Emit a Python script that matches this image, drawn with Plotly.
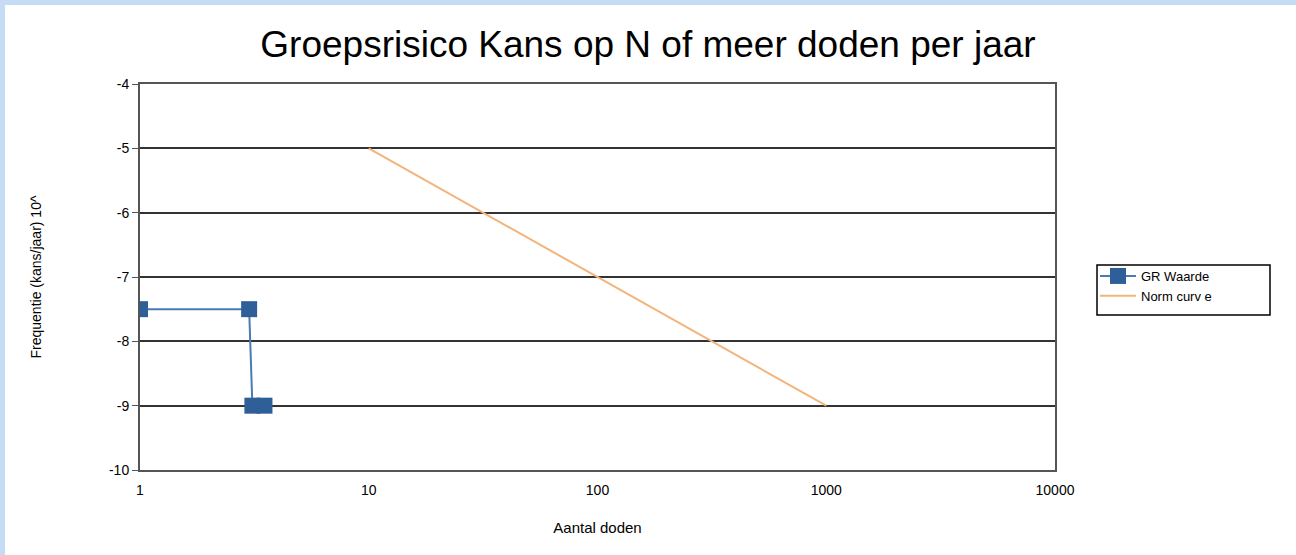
import plotly.graph_objects as go

gr_x = [1, 3, 3.1, 3.5]
gr_y = [-7.5, -7.5, -9, -9]
norm_x = [10, 100, 1000]
norm_y = [-5, -7, -9]
x_ticks = [1, 10, 100, 1000, 10000]
y_ticks = [-4, -5, -6, -7, -8, -9, -10]

fig = go.Figure()
fig.add_trace(go.Scatter(x=gr_x, y=gr_y, mode="lines+markers", name="GR Waarde",
                         line=dict(color="#4a7ab5", width=2),
                         marker=dict(symbol="square", size=16, color="#2f5f99")))
fig.add_trace(go.Scatter(x=norm_x, y=norm_y, mode="lines", name="Norm curv e",
                         line=dict(color="#f2b47a", width=2)))

L, R, T, B = 140, 241, 84, 85
W, H = 1296, 555
pw, ph = W - L - R, H - T - B

fig.update_layout(
    width=W, height=H,
    margin=dict(l=L, r=R, t=T, b=B, autoexpand=False),
    paper_bgcolor="white", plot_bgcolor="white",
    font=dict(family="Liberation Sans, Arial", color="black", size=14),
    title=dict(text="Groepsrisico Kans op N of meer doden per jaar",
               x=648 / W, xanchor="center", y=1 - 44 / H, yanchor="middle",
               xref="container", yref="container",
               font=dict(size=37, family="Liberation Sans, Arial"), automargin=False),
    showlegend=True,
    legend=dict(x=(1095 - L) / pw, xanchor="left", y=1 - (261 - T) / ph, yanchor="top",
                borderwidth=0, bgcolor="rgba(0,0,0,0)",
                font=dict(size=13), tracegroupgap=0, itemwidth=36),
    xaxis=dict(type="log", range=[0, 4], tickvals=x_ticks, ticktext=[str(v) for v in x_ticks],
               showgrid=False, showline=True, linecolor="#555", linewidth=2, mirror=True,
               ticks="", zeroline=False, automargin=False, ticklabelstandoff=6,
               title=dict(text="Aantal doden", font=dict(size=15), standoff=26),
               tickfont=dict(size=14)),
    yaxis=dict(range=[-10, -4], tickvals=y_ticks, ticktext=[str(v) for v in y_ticks],
               showgrid=True, gridcolor="#333",
               gridwidth=2, showline=True, linecolor="#555", linewidth=2, mirror=True,
               ticks="outside", ticklen=6, tickcolor="#555", zeroline=False, automargin=False,
               title=dict(text="Frequentie (kans/jaar) 10^", font=dict(size=14), standoff=64),
               tickfont=dict(size=14)),
)

# legend frame
fig.add_shape(type="rect", xref="paper", yref="paper",
              x0=(1097 - L) / pw, x1=(1270 - L) / pw,
              y0=1 - (315 - T) / ph, y1=1 - (265 - T) / ph,
              fillcolor="rgba(0,0,0,0)", line=dict(color="black", width=1.5))
# light blue page border
fig.add_shape(type="rect", xref="paper", yref="paper",
              x0=-L / pw, x1=(W - L) / pw, y0=1 + (T - 5) / ph, y1=1 + T / ph,
              fillcolor="#c6dcf5", line=dict(width=0), layer="below")
fig.add_shape(type="rect", xref="paper", yref="paper",
              x0=-L / pw, x1=-(L - 5) / pw, y0=-B / ph, y1=1 + T / ph,
              fillcolor="#c6dcf5", line=dict(width=0), layer="below")

fig.write_html("out.html", config={"displayModeBar": False},
               post_script="document.body.style.margin='0';document.body.style.overflow='hidden';")
